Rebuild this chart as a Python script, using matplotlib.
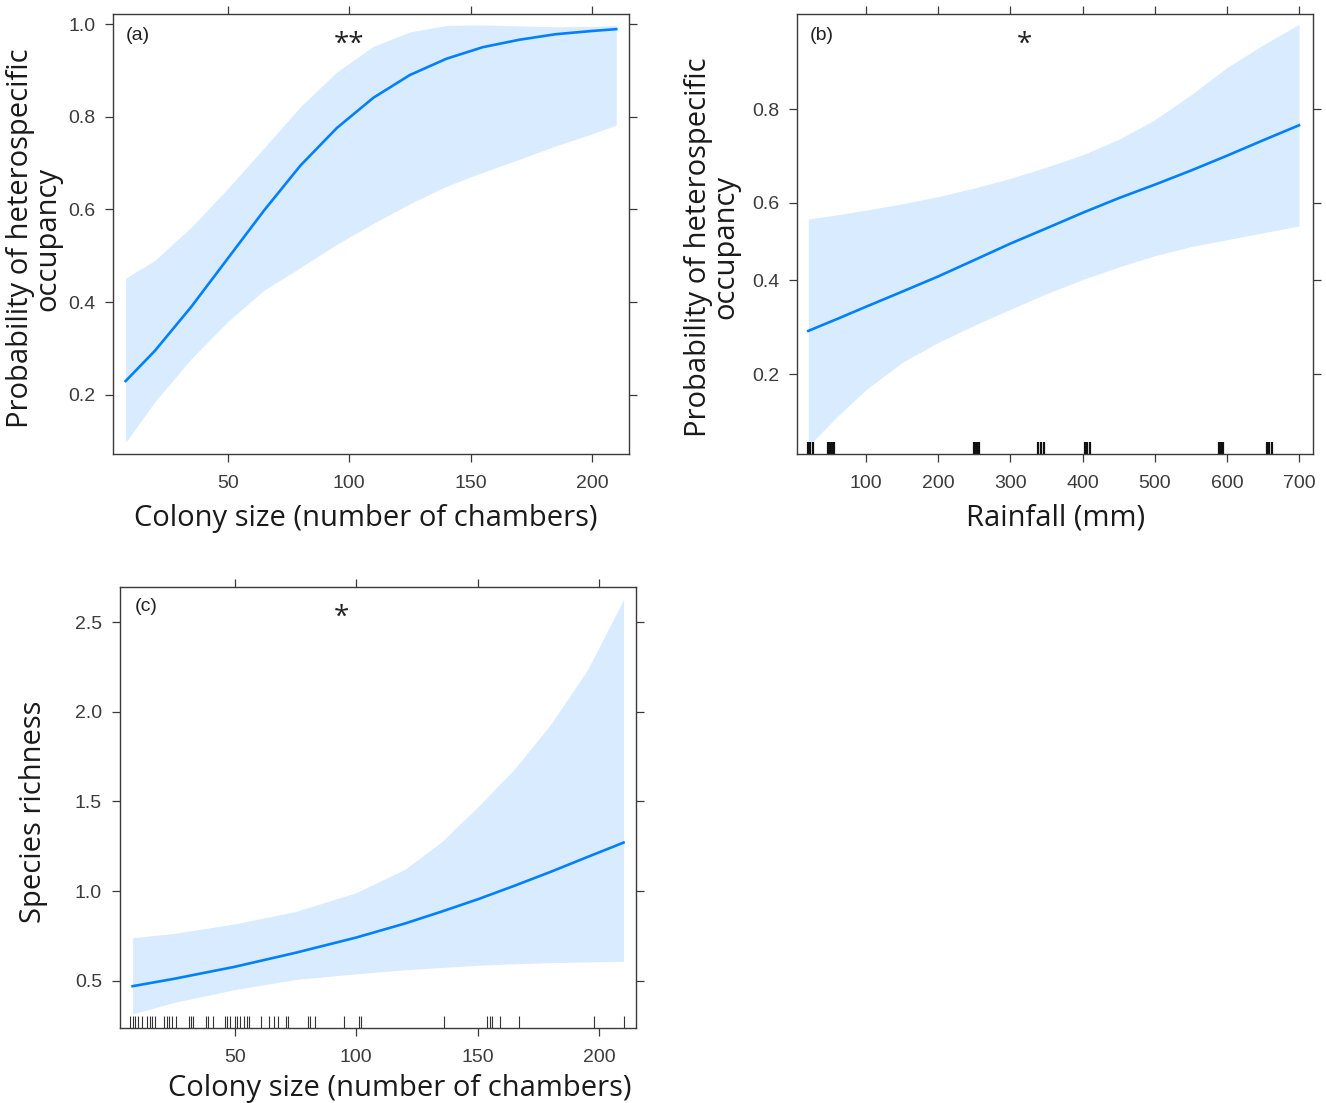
import matplotlib
matplotlib.use("Agg")
import matplotlib.pyplot as plt
from matplotlib.ticker import FixedLocator, NullLocator, NullFormatter, FuncFormatter

# ---- panel (a): heterospecific occupancy vs colony size ----
colony_a = [8, 20, 35, 50, 65, 80, 95, 110, 125, 140, 155, 170, 185, 200, 210]
occ_fit_a = [0.230, 0.295, 0.390, 0.494, 0.598, 0.695, 0.776, 0.841, 0.890, 0.925,
             0.950, 0.966, 0.978, 0.985, 0.989]
occ_upr_a = [0.452, 0.490, 0.562, 0.645, 0.733, 0.822, 0.897, 0.952, 0.983, 0.997,
             0.998, 0.996, 0.994, 0.995, 0.997]
occ_lwr_a = [0.098, 0.185, 0.278, 0.358, 0.426, 0.475, 0.525, 0.570, 0.612, 0.650,
             0.680, 0.708, 0.737, 0.763, 0.782]

# ---- panel (b): heterospecific occupancy vs rainfall ----
rain_b = [20, 60, 100, 150, 200, 250, 300, 350, 400, 450, 500, 550, 600, 650, 700]
occ_fit_b = [0.282, 0.308, 0.336, 0.372, 0.410, 0.452, 0.495, 0.535, 0.575, 0.612,
             0.645, 0.678, 0.711, 0.743, 0.772]
occ_upr_b = [0.559, 0.570, 0.582, 0.598, 0.616, 0.637, 0.660, 0.686, 0.713, 0.745,
             0.782, 0.823, 0.861, 0.887, 0.907]
occ_lwr_b = [0.105, 0.138, 0.175, 0.220, 0.258, 0.294, 0.330, 0.367, 0.402, 0.434,
             0.463, 0.487, 0.505, 0.523, 0.541]
rain_rug = [19, 22, 26, 47, 49, 51, 53, 55, 249, 251, 253, 255, 257, 338, 342, 347,
            404, 406, 411, 589, 592, 595, 655, 658, 662]

# ---- panel (c): species richness vs colony size ----
colony_c = [8, 25, 50, 75, 100, 120, 135, 150, 165, 180, 195, 210]
rich_fit_c = [0.471, 0.512, 0.579, 0.657, 0.742, 0.820, 0.886, 0.955, 1.030, 1.108,
              1.190, 1.271]
rich_upr_c = [0.741, 0.765, 0.818, 0.887, 0.992, 1.122, 1.274, 1.470, 1.680, 1.930,
              2.230, 2.625]
rich_lwr_c = [0.317, 0.380, 0.452, 0.508, 0.540, 0.562, 0.575, 0.587, 0.596, 0.602,
              0.606, 0.610]
colony_rug = [7, 8, 9, 10, 12, 14, 15, 16, 17, 21, 22, 23, 24, 26, 31, 32, 33, 38, 39,
              41, 46, 47, 48, 50, 51, 52, 54, 55, 56, 61, 64, 66, 68, 71, 72, 80, 81,
              83, 95, 101, 102, 136, 154, 155, 156, 159, 167, 198, 210]

LINE_COL = "#0080ff"
AXIS_COL = "#3a3a3a"
TICK_FONT = "Liberation Sans"
LABEL_FONT = "Open Sans"
LABEL_SIZE = 21

fig = plt.figure(figsize=(13.26, 11.03), dpi=100)
ax_a = fig.add_axes([0.0854, 0.5881, 0.3889, 0.3992])
ax_b = fig.add_axes([0.6013, 0.5881, 0.3889, 0.3992])
ax_c = fig.add_axes([0.0905, 0.0680, 0.3891, 0.3998])


def style_axes(ax):
    for sp in ax.spines.values():
        sp.set_color(AXIS_COL)
        sp.set_linewidth(1.0)
    ax.tick_params(which="major", direction="out", length=6, width=0.9,
                   color=AXIS_COL, top=True, right=True,
                   labeltop=False, labelright=False,
                   labelsize=14, labelcolor="#3c3c3c", pad=7)
    ax.tick_params(axis="x", pad=9)
    for lab in ax.get_xticklabels() + ax.get_yticklabels():
        lab.set_fontfamily(TICK_FONT)


def draw_effect(ax, x, fit, lwr, upr):
    ax.fill_between(x, lwr, upr, color=LINE_COL, alpha=0.15, linewidth=0)
    ax.plot(x, fit, color=LINE_COL, linewidth=1.9)


def draw_rug(ax, vals, lw, col):
    ax.vlines(vals, 0, 0.028, transform=ax.get_xaxis_transform(),
              colors=col, linewidth=lw)


def fmt1(v, pos):
    return f"{v:.1f}"


# (a)
draw_effect(ax_a, colony_a, occ_fit_a, occ_lwr_a, occ_upr_a)
ax_a.set_xlim(2.9, 215.2)
ax_a.set_ylim(0.072, 1.0216)
ax_a.set_xticks([50, 100, 150, 200])
ax_a.set_yticks([0.2, 0.4, 0.6, 0.8, 1.0])
ax_a.yaxis.set_major_formatter(FuncFormatter(fmt1))
style_axes(ax_a)
ax_a.set_xlabel("Colony size (number of chambers)", fontsize=LABEL_SIZE,
                family=LABEL_FONT, color="#1a1a1a")
ax_a.xaxis.set_label_coords(0.49, -0.112)
ax_a.set_ylabel("Probability of heterospecific\noccupancy", fontsize=LABEL_SIZE,
                family=LABEL_FONT, color="#1a1a1a", linespacing=0.92)
ax_a.yaxis.set_label_coords(-0.098, 0.49)
ax_a.text(0.025, 0.952, "(a)", transform=ax_a.transAxes, fontsize=14,
          family=TICK_FONT, va="center", ha="left", color="#222222")
ax_a.text(100, 0.93, "**", transform=ax_a.get_xaxis_transform(), fontsize=20,
          family=LABEL_FONT, ha="center", va="center", color="#222222")

# (b) - logit scale on the probability axis
draw_effect(ax_b, rain_b, occ_fit_b, occ_lwr_b, occ_upr_b)
ax_b.set_yscale("logit")
ax_b.set_xlim(4.8, 719.4)
ax_b.set_ylim(0.0973, 0.9157)
ax_b.set_xticks([100, 200, 300, 400, 500, 600, 700])
ax_b.yaxis.set_major_locator(FixedLocator([0.2, 0.4, 0.6, 0.8]))
ax_b.yaxis.set_major_formatter(FuncFormatter(fmt1))
ax_b.yaxis.set_minor_locator(NullLocator())
ax_b.yaxis.set_minor_formatter(NullFormatter())
draw_rug(ax_b, rain_rug, 1.6, "#111111")
style_axes(ax_b)
ax_b.set_xlabel("Rainfall (mm)", fontsize=LABEL_SIZE, family=LABEL_FONT, color="#1a1a1a")
ax_b.xaxis.set_label_coords(0.50, -0.112)
ax_b.set_ylabel("Probability of heterospecific\noccupancy", fontsize=LABEL_SIZE,
                family=LABEL_FONT, color="#1a1a1a", linespacing=0.92)
ax_b.yaxis.set_label_coords(-0.11, 0.47)
ax_b.text(0.025, 0.952, "(b)", transform=ax_b.transAxes, fontsize=14,
          family=TICK_FONT, va="center", ha="left", color="#222222")
ax_b.text(320, 0.93, "*", transform=ax_b.get_xaxis_transform(), fontsize=20,
          family=LABEL_FONT, ha="center", va="center", color="#222222")

# (c)
draw_effect(ax_c, colony_c, rich_fit_c, rich_lwr_c, rich_upr_c)
ax_c.set_xlim(2.8, 215.1)
ax_c.set_ylim(0.238, 2.695)
ax_c.set_xticks([50, 100, 150, 200])
ax_c.set_yticks([0.5, 1.0, 1.5, 2.0, 2.5])
ax_c.yaxis.set_major_formatter(FuncFormatter(fmt1))
draw_rug(ax_c, colony_rug, 0.8, "#333333")
style_axes(ax_c)
ax_c.set_xlabel("Colony size (number of chambers)", fontsize=LABEL_SIZE,
                family=LABEL_FONT, color="#1a1a1a")
ax_c.xaxis.set_label_coords(0.543, -0.105)
ax_c.set_ylabel("Species richness", fontsize=LABEL_SIZE, family=LABEL_FONT,
                color="#1a1a1a")
ax_c.yaxis.set_label_coords(-0.14, 0.49)
ax_c.text(0.028, 0.955, "(c)", transform=ax_c.transAxes, fontsize=14,
          family=TICK_FONT, va="center", ha="left", color="#222222")
ax_c.text(94, 0.93, "*", transform=ax_c.get_xaxis_transform(), fontsize=20,
          family=LABEL_FONT, ha="center", va="center", color="#222222")

fig.savefig("out.png", dpi=100)
